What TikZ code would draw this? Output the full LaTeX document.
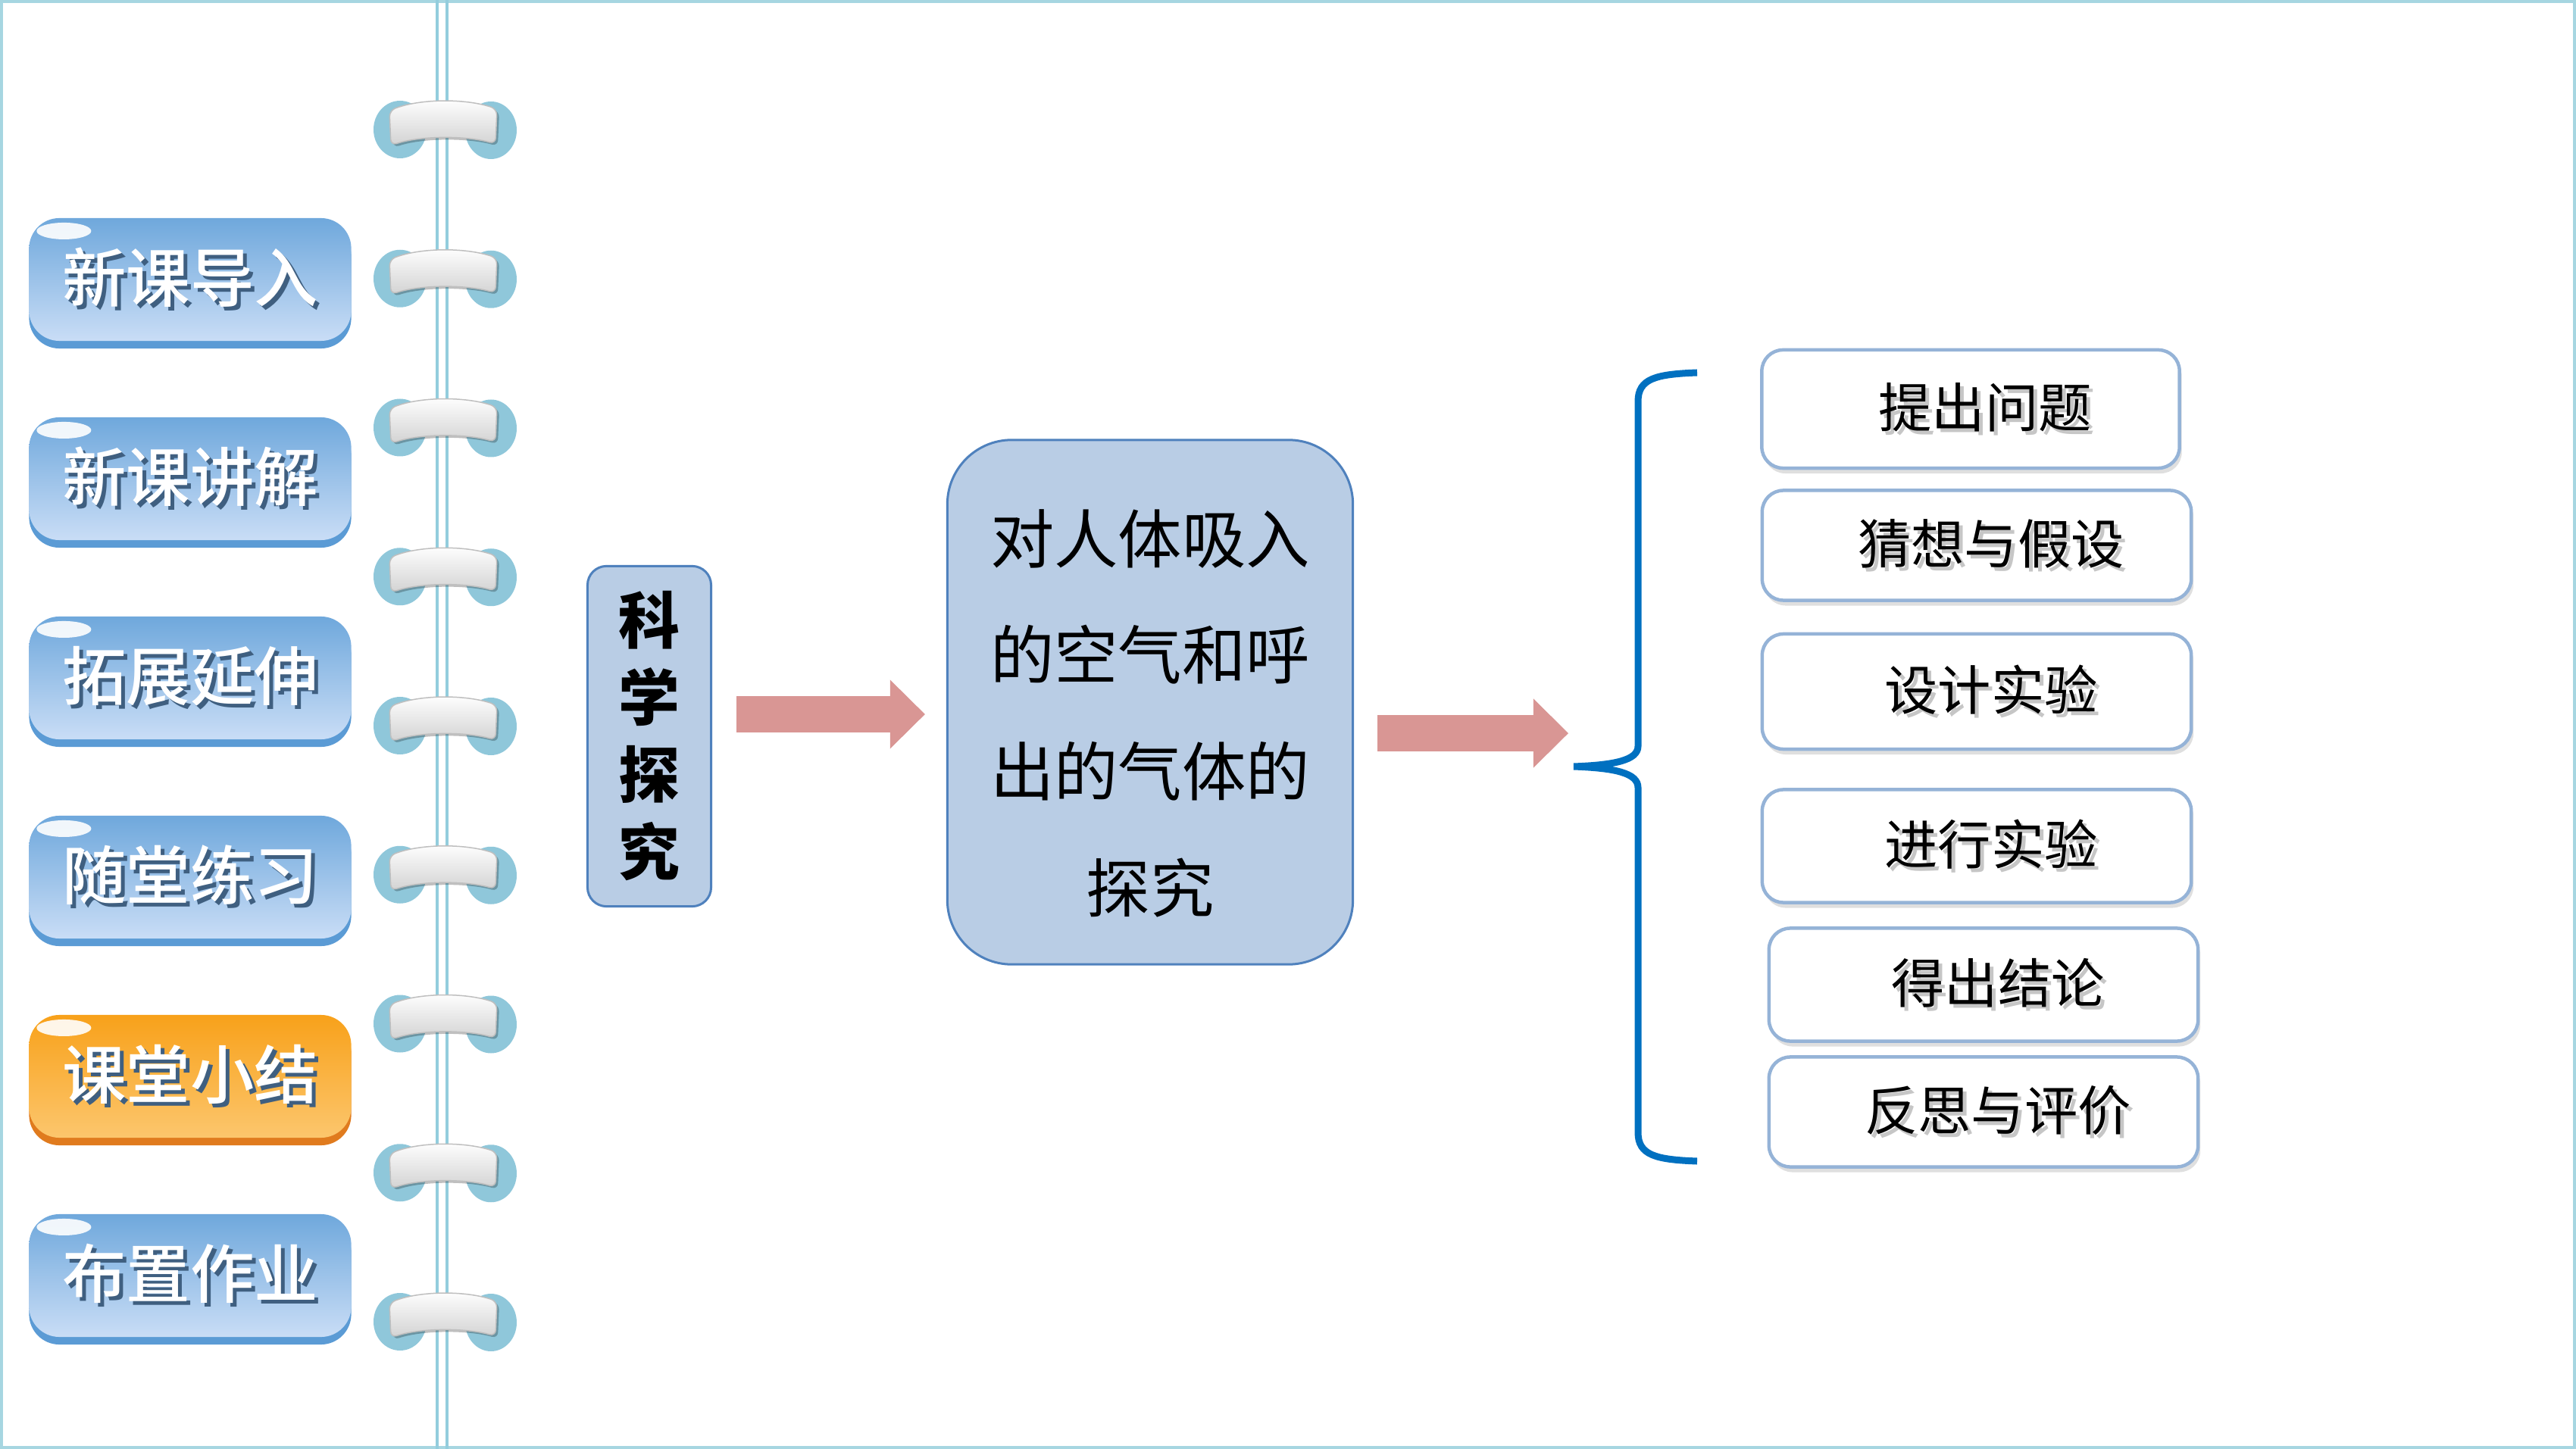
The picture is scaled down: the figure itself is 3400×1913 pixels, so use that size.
\documentclass[tikz,border=0pt]{standalone}
\usepackage{fontspec}
\setmainfont{Noto Sans CJK SC}
\newfontfamily\tabfont{Noto Sans CJK SC Medium}
\usetikzlibrary{arrows.meta,positioning,shadows,calc}
\definecolor{tabtop}{HTML}{6FA8DC}
\definecolor{tabbot}{HTML}{C9DDF6}
\definecolor{tabrim}{HTML}{5B9BD5}
\definecolor{tabshade}{HTML}{3F5F80}
\definecolor{orgtop}{HTML}{F8A11A}
\definecolor{orgbot}{HTML}{FCC66D}
\definecolor{orgrim}{HTML}{E07B1E}
\definecolor{ringcol}{HTML}{8FC7DA}
\definecolor{spinecol}{HTML}{93CDDD}
\definecolor{framecol}{HTML}{A6D6E1}
\definecolor{boxfill}{HTML}{B9CDE5}
\definecolor{boxline}{HTML}{4F81BD}
\definecolor{stepline}{HTML}{95B3D7}
\definecolor{arrowpink}{HTML}{D99694}
\definecolor{braceblue}{HTML}{0070C0}
\newcommand\shadowed[3]{\makebox[0pt][l]{\hspace{0.05cm}\raisebox{-0.05cm}{\textcolor{#2}{#3}}}\textcolor{#1}{#3}}

\begin{document}
\begin{tikzpicture}[x=0.01cm, y=-0.01cm,
    tab/.style={rounded corners=0.4cm, minimum width=4.25cm, minimum height=1.62cm, inner sep=0pt,
        font=\tabfont\fontsize{24pt}{28pt}\selectfont,
        path picture={\fill[white, opacity=0.9] ([xshift=0.46cm, yshift=-0.17cm]path picture bounding box.north west) ellipse [x radius=0.36cm, y radius=0.11cm];}},
    bluetab/.style={tab, top color=tabtop, bottom color=tabbot, general shadow={fill=tabrim, shadow yshift=-0.1cm}},
    orangetab/.style={tab, top color=orgtop, bottom color=orgbot, general shadow={fill=orgrim, shadow yshift=-0.1cm}},
    topicbox/.style={draw=boxline, fill=boxfill, line width=0.03cm, align=center, inner sep=0pt},
    stepbox/.style={draw=stepline, fill=white, line width=0.045cm, rounded corners=0.28cm, inner sep=0pt,
        font=\fontsize{20pt}{24pt}\selectfont,
        drop shadow={opacity=0.25, shadow xshift=0.03cm, shadow yshift=-0.07cm}},
    fatarrow/.style={draw=arrowpink, line width=0.48cm, -{Triangle[width=0.91cm, length=0.46cm, line width=0pt]}},
    brace/.style={draw=braceblue, line width=0.09cm},
    bindring/.pic={
        \fill[ringcol] (-57,2) ellipse [x radius=35, y radius=38];
        \fill[ringcol] (63,3) ellipse [x radius=34, y radius=38];
        \draw[gray!50, line width=0.015cm, top color=white, bottom color=gray!35, rounded corners=0.08cm,
            general shadow={fill=black, opacity=0.25, shadow xshift=0.03cm, shadow yshift=-0.03cm}]
            (-71,-23) .. controls (-30,-39) and (30,-39) .. (71,-25)
            -- (69,21) .. controls (30,10) and (-30,10) .. (-69,23) -- cycle;
    }
]
\useasboundingbox (0,0) rectangle (3400,1913);

% Frame and spine
\draw[framecol, line width=0.04cm] (2,2) rectangle (3398,1911);
\draw[spinecol, line width=0.04cm] (577,0) -- (577,1913) (590,0) -- (590,1913);

% Rings
\foreach \i in {0,...,8}
    \pic at (585,{169+196.75*\i}) {bindring};

% Tabs
\foreach \txt/\sty [count=\i from 0] in {新课导入/bluetab, 新课讲解/bluetab, 拓展延伸/bluetab, 随堂练习/bluetab, 课堂小结/orangetab, 布置作业/bluetab}
    \node[\sty] (tab\i) at (251,{369+263*\i}) {\shadowed{white}{tabshade}{\txt}\hspace{0.22cm}};

% Topic
\node[topicbox, rounded corners=0.25cm, minimum width=1.63cm, minimum height=4.49cm,
    font=\bfseries\fontsize{23pt}{29pt}\selectfont] (vbox) at (857,972) {科\\学\\探\\究};
\node[topicbox, rounded corners=0.85cm, minimum width=5.35cm, minimum height=6.92cm,
    font=\fontsize{24pt}{43.7pt}\selectfont] (topic) at (1518,927) {\rule{0pt}{28.5pt}对人体吸入\\的空气和呼\\出的气体的\\探究};

% Steps
\node[stepbox, minimum width=5.51cm, minimum height=1.56cm] (s1) at (2601,540) {\hspace{0.38cm}\shadowed{black}{gray!45}{提出问题}};
\node[stepbox, minimum width=5.66cm, minimum height=1.45cm] (s2) at (2609,720) {\hspace{0.38cm}\shadowed{black}{gray!45}{猜想与假设}};
\node[stepbox, minimum width=5.66cm, minimum height=1.52cm] (s3) at (2609,913) {\hspace{0.38cm}\shadowed{black}{gray!45}{设计实验}};
\node[stepbox, minimum width=5.66cm, minimum height=1.49cm] (s4) at (2609,1117) {\hspace{0.38cm}\shadowed{black}{gray!45}{进行实验}};
\node[stepbox, minimum width=5.66cm, minimum height=1.49cm] (s5) at (2618,1300) {\hspace{0.38cm}\shadowed{black}{gray!45}{得出结论}};
\node[stepbox, minimum width=5.66cm, minimum height=1.45cm] (s6) at (2618,1468) {\hspace{0.38cm}\shadowed{black}{gray!45}{反思与评价}};

% Brace
\coordinate (bracetip) at (2077,1012);
\draw[brace] (2240,492) .. controls (2185,494) and (2162,500) .. (2162,530) -- (2162,985)
    .. controls (2162,1004) and (2130,1010) .. (bracetip)
    .. controls (2130,1014) and (2162,1020) .. (2162,1040) -- (2162,1495)
    .. controls (2162,1525) and (2185,1531) .. (2240,1533);

% Arrows
\coordinate (a1) at ([yshift=0.29cm]vbox.east);
\draw[fatarrow, shorten <=0.32cm, shorten >=0.28cm] (a1) -- (a1 -| topic.west);
\coordinate (a2) at ([yshift=-0.41cm]topic.east);
\draw[fatarrow, shorten <=0.31cm, shorten >=0.07cm] (a2) -- (a2 -| bracetip);

\end{tikzpicture}
\end{document}
